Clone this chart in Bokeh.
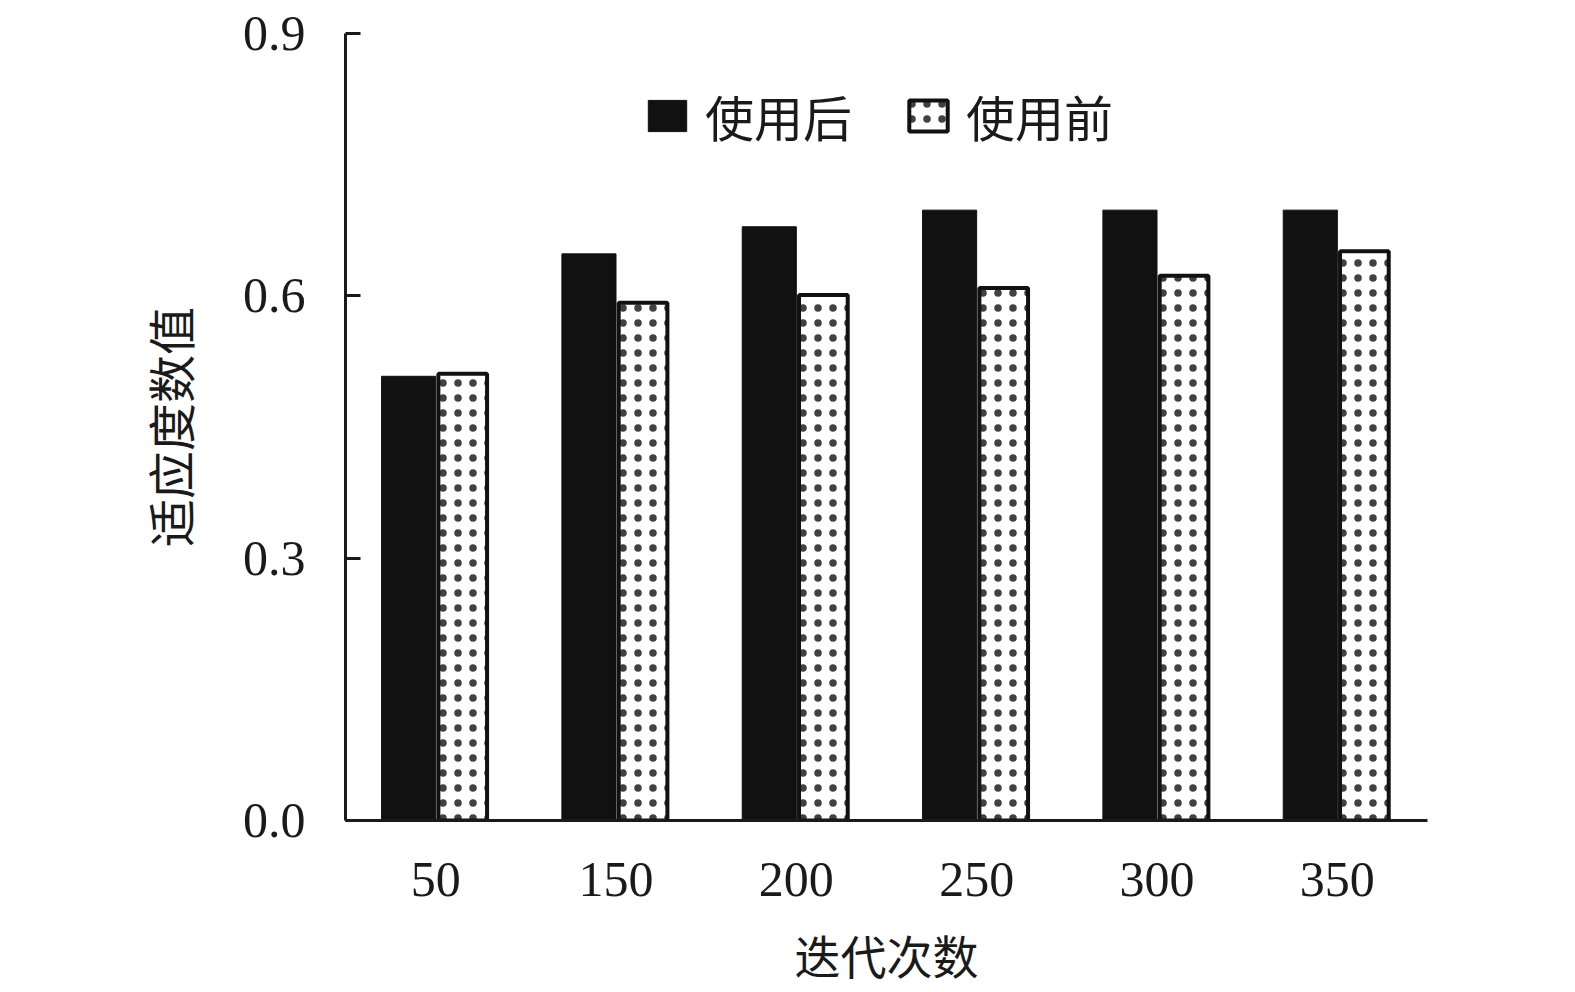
from bokeh.plotting import figure
from bokeh.models import ColumnDataSource, FixedTicker, Legend, LegendItem, NumeralTickFormatter
from bokeh.transform import dodge
from bokeh.embed import file_html
from bokeh.resources import INLINE

categories = ["50", "150", "200", "250", "300", "350"]
after_use = [0.508, 0.648, 0.679, 0.698, 0.698, 0.698]
before_use = [0.511, 0.592, 0.601, 0.609, 0.623, 0.651]
y_ticks = [0.0, 0.3, 0.6, 0.9]
series_names = ["使用后", "使用前"]
x_title = "迭代次数"
y_title = "适应度数值"

src = ColumnDataSource(dict(cat=categories, after=after_use, before=before_use))

p = figure(x_range=categories, y_range=(0, 0.9), frame_width=1082, frame_height=787,
           output_backend="svg", toolbar_location=None,
           min_border_left=345, min_border_top=33, min_border_right=100, min_border_bottom=150)
p.outline_line_color = None
p.xgrid.grid_line_color = None
p.ygrid.grid_line_color = None
p.x_range.range_padding = 0

r1 = p.vbar(x=dodge("cat", -0.15, range=p.x_range), top="after", width=0.3, source=src,
            fill_color="#111111", line_color="#111111", line_width=1)
r2 = p.vbar(x=dodge("cat", 0.15, range=p.x_range), top="before", width=0.27, source=src,
            fill_color="white", line_color="#111111", line_width=4,
            hatch_pattern="dot", hatch_color="#111111", hatch_scale=15,
            hatch_weight=1, hatch_alpha=0.8)

ax_col = "#1a1a1a"
p.yaxis.ticker = FixedTicker(ticks=y_ticks)
p.yaxis.formatter = NumeralTickFormatter(format="0.0")
p.yaxis.major_tick_in = 15
p.yaxis.major_tick_out = 0
p.yaxis.minor_tick_line_color = None
p.yaxis.axis_line_width = 3
p.yaxis.major_tick_line_width = 3
p.yaxis.axis_line_color = ax_col
p.yaxis.major_tick_line_color = ax_col
p.yaxis.major_label_text_font = "Liberation Serif"
p.yaxis.major_label_text_font_size = "50px"
p.yaxis.major_label_text_color = ax_col
p.yaxis.major_label_standoff = 40
p.yaxis.axis_label = y_title
p.yaxis.axis_label_text_font = "Noto Sans CJK SC"
p.yaxis.axis_label_text_font_size = "48px"
p.yaxis.axis_label_text_font_style = "normal"
p.yaxis.axis_label_text_color = ax_col
p.yaxis.axis_label_standoff = 36

p.xaxis.major_tick_line_color = None
p.xaxis.minor_tick_line_color = None
p.xaxis.major_tick_in = 0
p.xaxis.major_tick_out = 0
p.xaxis.axis_line_width = 3
p.xaxis.axis_line_color = ax_col
p.xaxis.major_label_text_font = "Liberation Serif"
p.xaxis.major_label_text_font_size = "50px"
p.xaxis.major_label_text_color = ax_col
p.xaxis.major_label_standoff = 42
p.xaxis.axis_label = x_title
p.xaxis.axis_label_text_font = "Noto Sans CJK SC"
p.xaxis.axis_label_text_font_size = "46px"
p.xaxis.axis_label_text_font_style = "normal"
p.xaxis.axis_label_text_color = ax_col
p.xaxis.axis_label_standoff = 22

legend = Legend(items=[LegendItem(label=series_names[0], renderers=[r1]),
                       LegendItem(label=series_names[1], renderers=[r2])],
                orientation="horizontal", location=(298, 669),
                glyph_width=48, glyph_height=39, label_standoff=14, spacing=52,
                padding=0, margin=0, border_line_color=None, background_fill_alpha=0,
                label_text_font="Noto Sans CJK SC", label_text_font_size="49px",
                label_text_color=ax_col)
p.add_layout(legend)

open("out.html", "w").write(file_html(p, INLINE))
